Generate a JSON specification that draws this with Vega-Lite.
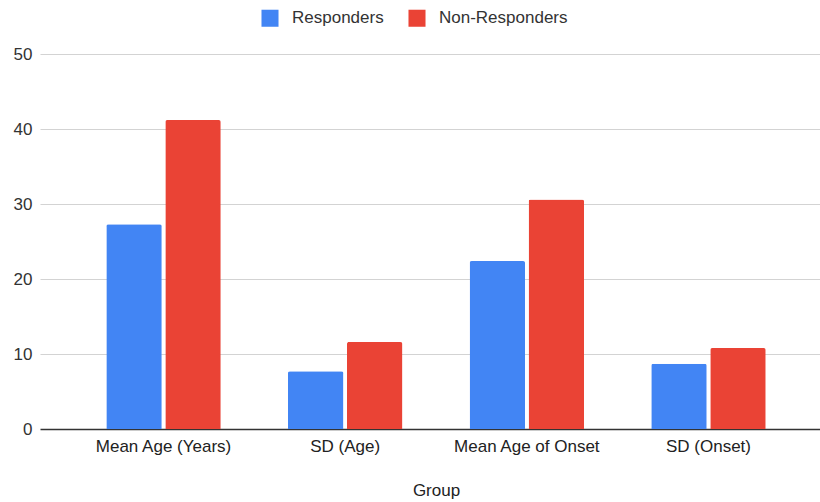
{
  "$schema": "https://vega.github.io/schema/vega-lite/v6.json",
  "autosize": "none",
  "width": 780,
  "height": 375,
  "padding": {"left": 40, "top": 54, "right": 0, "bottom": 73},
  "background": "#ffffff",
  "data": {
    "values": [
      {"group": "Mean Age (Years)", "series": "Responders", "value": 27.3},
      {"group": "Mean Age (Years)", "series": "Non-Responders", "value": 41.2},
      {"group": "SD (Age)", "series": "Responders", "value": 7.7},
      {"group": "SD (Age)", "series": "Non-Responders", "value": 11.6},
      {"group": "Mean Age of Onset", "series": "Responders", "value": 22.4},
      {"group": "Mean Age of Onset", "series": "Non-Responders", "value": 30.6},
      {"group": "SD (Onset)", "series": "Responders", "value": 8.7},
      {"group": "SD (Onset)", "series": "Non-Responders", "value": 10.8}
    ]
  },
  "mark": {"type": "bar", "cornerRadiusTopLeft": 2, "cornerRadiusTopRight": 2},
  "encoding": {
    "x": {
      "field": "group",
      "type": "nominal",
      "sort": ["Mean Age (Years)", "SD (Age)", "Mean Age of Onset", "SD (Onset)"],
      "title": "Group",
      "scale": {"range": [0, 792], "paddingInner": 0.37, "paddingOuter": 0.365},
      "axis": {
        "labelAngle": 0,
        "ticks": false,
        "domain": false,
        "labelPadding": 9,
        "labelFont": "Liberation Sans",
        "labelFontSize": 17,
        "labelColor": "#222222",
        "titleFont": "Liberation Sans",
        "titleFontSize": 17,
        "titleFontWeight": "normal",
        "titleColor": "#222222",
        "titlePadding": 28
      }
    },
    "xOffset": {
      "field": "series",
      "type": "nominal",
      "sort": ["Responders", "Non-Responders"],
      "scale": {"paddingInner": 0.06, "paddingOuter": 0}
    },
    "y": {
      "field": "value",
      "type": "quantitative",
      "title": null,
      "scale": {"domain": [0, 50], "nice": false},
      "axis": {
        "values": [0, 10, 20, 30, 40, 50],
        "ticks": false,
        "domain": false,
        "labelPadding": 8,
        "labelFont": "Liberation Sans",
        "labelFontSize": 17,
        "labelColor": "#333333",
        "gridColor": {"condition": {"test": "datum.value === 0", "value": "#333333"}, "value": "#d3d3d3"},
        "gridWidth": {"condition": {"test": "datum.value === 0", "value": 1.5}, "value": 1}
      }
    },
    "color": {
      "field": "series",
      "type": "nominal",
      "sort": ["Responders", "Non-Responders"],
      "scale": {"domain": ["Responders", "Non-Responders"], "range": ["#4285F4", "#EA4335"]},
      "legend": {
        "title": null,
        "orient": "none",
        "direction": "horizontal",
        "legendX": 221,
        "legendY": -45,
        "padding": 0,
        "symbolType": "square",
        "symbolSize": 290,
        "symbolStrokeWidth": 0,
        "labelOffset": 13,
        "columnPadding": 24,
        "labelFont": "Liberation Sans",
        "labelFontSize": 17,
        "labelColor": "#333333"
      }
    }
  },
  "config": {"view": {"stroke": null}}
}
